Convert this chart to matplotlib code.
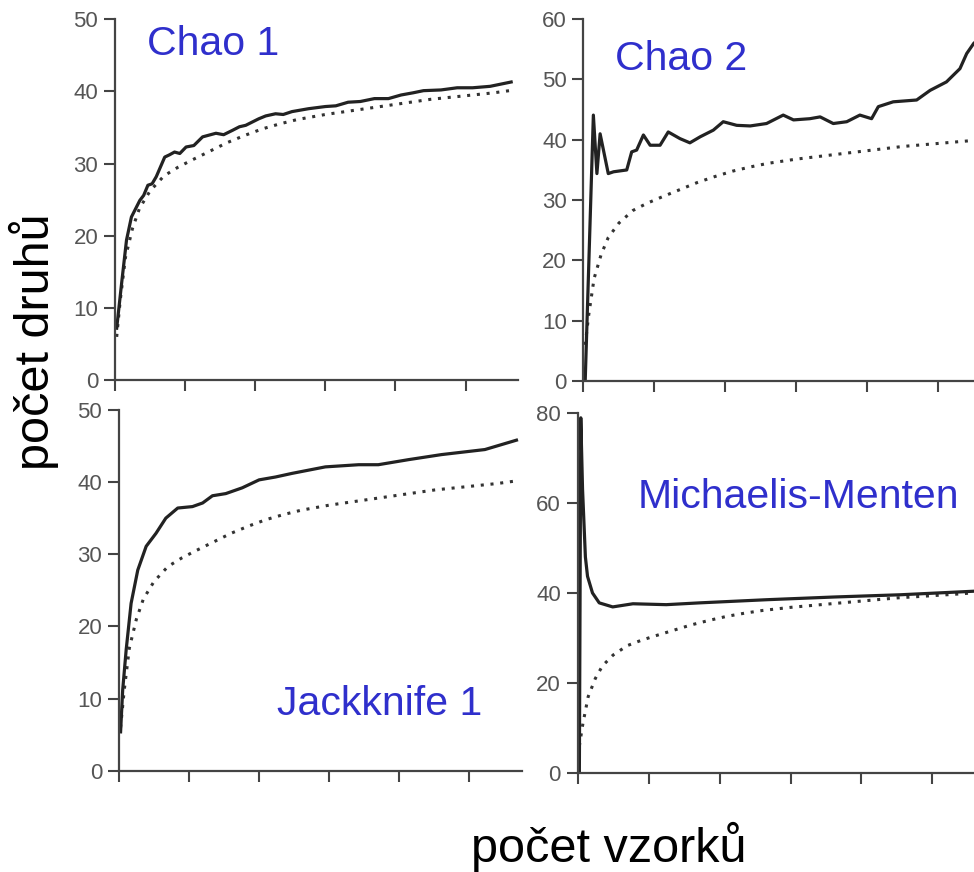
import matplotlib
matplotlib.use("Agg")
from matplotlib import pyplot as plt

plt.rcParams["font.family"] = ["Liberation Sans", "DejaVu Sans"]

# observed species (dotted curve, same in all four panels)
sobs_x = [0.5, 1.5, 3, 5, 7, 10, 14, 18, 22, 27, 32, 37, 42, 47, 52, 60, 70, 80, 90, 100, 108, 114]
sobs_y = [6, 11, 17, 21, 23.8, 26.2, 28.3, 29.5, 30.5, 31.7, 32.9, 33.9, 34.8, 35.5, 36.1, 36.8, 37.5, 38.2, 38.9, 39.4, 39.8, 40.2]

# Chao 1
chao1_x = [0.5, 1.9, 3.3, 4.7, 7.1, 8.2, 9.4, 10.6, 11.8, 14.2, 15.5, 17, 18.5, 20.3, 22.5, 25, 28.8, 31,
           33.5, 35.5, 37.3, 41, 43, 45.8, 48, 50.5, 55.2, 60, 63, 66.5, 70, 74, 78, 81.6, 85, 88, 93,
           97.6, 102, 107, 113]
chao1_y = [7.2, 13.4, 19.4, 22.6, 24.9, 25.6, 27.0, 27.2, 28.2, 30.9, 31.2, 31.6, 31.4, 32.3, 32.5, 33.7,
           34.2, 34.0, 34.6, 35.1, 35.3, 36.2, 36.6, 36.9, 36.8, 37.2, 37.6, 37.9, 38.0, 38.5, 38.6,
           39.0, 39.0, 39.5, 39.8, 40.1, 40.2, 40.5, 40.5, 40.7, 41.3]

# Chao 2
chao2_x = [0.5, 2.8, 3.8, 4.7, 7.0, 8.5, 12.2, 13.6, 15, 16.9, 18.8, 21.6, 23.9, 27.2, 30, 32.9,
           36.6, 39.4, 43.2, 47, 51.6, 56.3, 59.2, 63.8, 66.7, 70.4, 74.2, 77.9, 81.2, 83.1,
           87.3, 93.9, 97.7, 102.3, 106.1, 108, 110, 114]
chao2_y = [0, 44.1, 34.4, 41.0, 34.4, 34.7, 35.0, 38.0, 38.3, 40.8, 39.1, 39.1, 41.3, 40.2, 39.5, 40.5,
           41.6, 43.0, 42.4, 42.3, 42.7, 44.1, 43.3, 43.5, 43.8, 42.7, 43.0, 44.1, 43.5, 45.5,
           46.3, 46.6, 48.2, 49.6, 51.8, 54.3, 56.0, 58.0]

# Jackknife 1
jack_x = [0.5, 1.1, 2.1, 3.5, 5.4, 7.8, 10.6, 13.4, 16.8, 21, 23.9, 26.7, 30.5, 35.2, 40, 44.7,
          49.4, 58.9, 68.4, 74, 82.6, 92, 104.4, 113.4]
jack_y = [5.4, 11.2, 16.8, 23.2, 27.8, 31.1, 32.9, 35.0, 36.4, 36.6, 37.1, 38.1, 38.4, 39.2, 40.3, 40.7,
          41.2, 42.1, 42.4, 42.4, 43.1, 43.8, 44.5, 45.8]

# Michaelis-Menten
mm_x = [0.5, 0.9, 1.4, 2.2, 2.8, 4.2, 6.1, 9.9, 15.6, 25, 34.4, 53.3, 72.2, 91, 112]
mm_y = [0, 78.9, 63, 48, 43.7, 40, 37.8, 36.9, 37.6, 37.4, 37.8, 38.5, 39.1, 39.6, 40.4]

x_ticks = [0, 20, 40, 60, 80, 100]
blue = "#2f2fcc"
grey = "#444444"

panels = [
    ([0.118, 0.564, 0.414, 0.414], chao1_x, chao1_y, 50, 10, "Chao 1"),
    ([0.599, 0.563, 0.419, 0.415], chao2_x, chao2_y, 60, 10, "Chao 2"),
    ([0.122, 0.116, 0.414, 0.414], jack_x, jack_y, 50, 10, "Jackknife 1"),
    ([0.593, 0.1135, 0.419, 0.413], mm_x, mm_y, 80, 20, "Michaelis-Menten"),
]
label_pos = [(147, 55), (615, 70), (277, 715), (638, 508)]

fig = plt.figure(figsize=(9.74, 8.72), dpi=100)

for (rect, xs, ys, ymax, ystep, name), (lx, ly) in zip(panels, label_pos):
    ax = fig.add_axes(rect)
    ax.plot(sobs_x, sobs_y, color="#333333", lw=2.2, linestyle=(0, (1, 2.2)))
    ax.plot(xs, ys, color="#222222", lw=2.3, solid_joinstyle="round")
    ax.set_xlim(0, 115)
    ax.set_ylim(0, ymax)
    ax.set_xticks(x_ticks)
    ax.set_xticklabels([])
    ax.set_yticks(range(0, ymax + 1, ystep))
    ax.spines["top"].set_visible(False)
    ax.spines["right"].set_visible(False)
    for s in ("left", "bottom"):
        ax.spines[s].set_color(grey)
        ax.spines[s].set_linewidth(1.6)
    ax.tick_params(direction="out", length=8, width=1.5, color=grey,
                   labelcolor="#555555", labelsize=16, pad=4)
    fig.text(lx / 974, 1 - ly / 872, name, color=blue, fontsize=29.5,
             ha="left", va="baseline")

fig.text(34 / 974, 1 - 342 / 872, "počet druhů", rotation=90, fontsize=35,
         ha="center", va="center")
fig.text(609 / 974, 1 - 847 / 872, "počet vzorků", fontsize=35,
         ha="center", va="center")

fig.savefig("out.png", dpi=100, facecolor="white")
